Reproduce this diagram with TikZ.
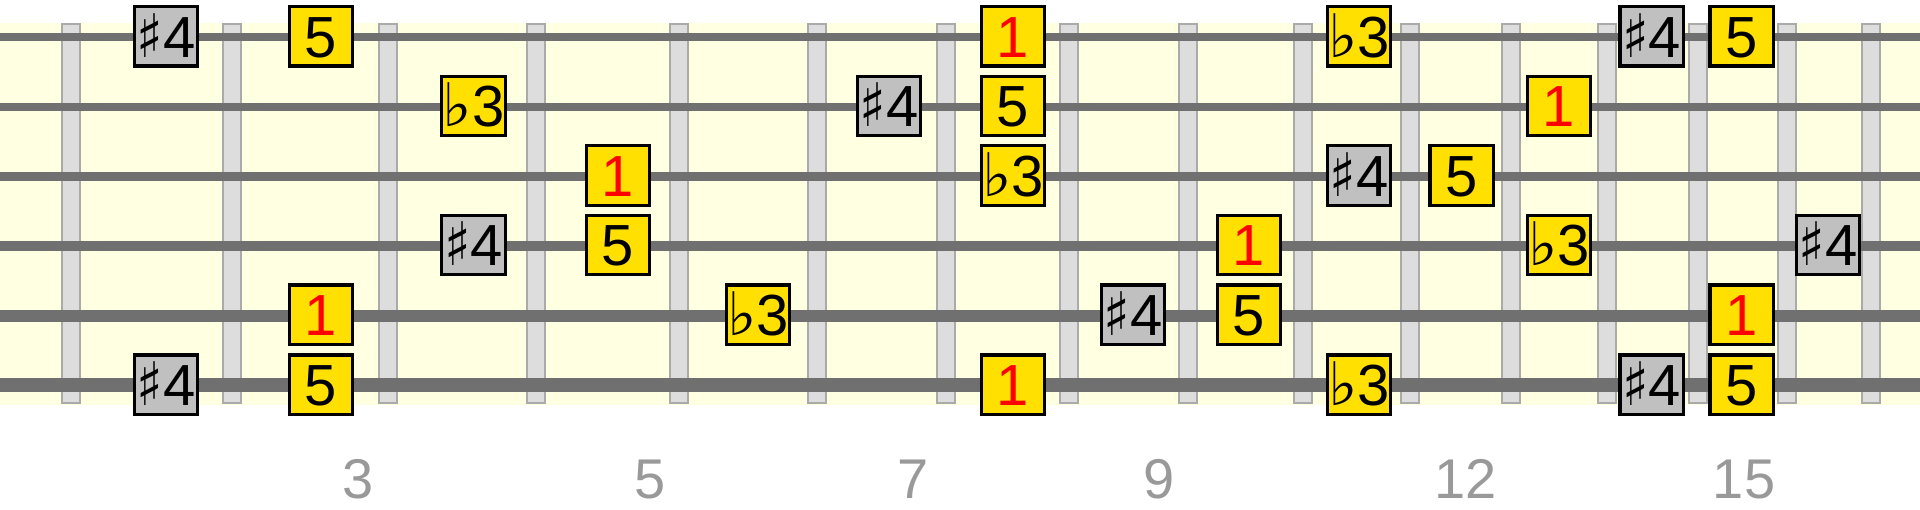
\documentclass[tikz,border=0pt]{standalone}
\usepackage{fontspec}
\usepackage{graphicx}
\setmainfont{Liberation Sans}
\newfontfamily\symfont{DejaVu Sans}
\definecolor{cream}{HTML}{FFFFE2}
\definecolor{strcol}{HTML}{707070}
\definecolor{fretfill}{HTML}{DDDDDD}
\definecolor{fretdraw}{HTML}{AAAAAA}
\definecolor{noteyellow}{HTML}{FFE000}
\definecolor{notegray}{HTML}{C0C0C0}
\definecolor{lblgray}{HTML}{999999}
\newcommand\shp{\scalebox{1.1}[1.2]{\symfont\fontsize{50}{50}\selectfont ♯}}
\newcommand\flt{\scalebox{1.25}[1.2]{\symfont\fontsize{50}{50}\selectfont ♭}}
\tikzset{
  fretbar/.style={fill=fretfill, draw=fretdraw, line width=2pt},
  gstring/.style={draw=strcol, line width=#1},
  notebox/.style={draw=black, line width=3.3pt, minimum width=63.4pt, minimum height=59.4pt,
    inner sep=0pt, text height=41.5pt, text depth=0pt, font=\fontsize{58}{58}\selectfont},
  yel/.style={notebox, fill=noteyellow},
  gry/.style={notebox, fill=notegray},
  root/.style={notebox, fill=noteyellow, text=red},
  fretlbl/.style={inner sep=0pt, text height=40pt, text depth=0pt, text=lblgray,
    font=\fontsize{56}{56}\selectfont},
}
\begin{document}
\begin{tikzpicture}[x=1pt,y=-1pt]
\useasboundingbox (0,0) rectangle (1920,510);
% fretboard
\fill[cream] (0,23.3) rectangle (1920,405);
% frets
\foreach \fx in {71.4,232,387.5,536.4,679.3,817,946,1068.5,1187.7,1302.7,1409.5,1510.5,1607,1697.5,1786.5,1871}
  \draw[fretbar] (\fx-9,24.3) rectangle (\fx+9,403.5);
% strings
\foreach \sy/\sw in {37.3/8,106.9/8,176.5/9,246.1/10.5,315.7/12,385.3/14}
  \draw[gstring=\sw pt] (0,\sy) -- (1920,\sy);
% string 1
\node[gry]  (s1f2)  at (166,36.3)    {\shp4};
\node[yel]  (s1f3)  at (321,36.3)    {5};
\node[root] (s1f8)  at (1013,36.3)   {1};
\node[yel]  (s1f11) at (1359,36.3)   {\flt3};
\node[gry]  (s1f14) at (1651.7,36.3) {\shp4};
\node[yel]  (s1f15) at (1741.7,36.3) {5};
% string 2
\node[yel]  (s2f4)  at (473.5,105.9) {\flt3};
\node[gry]  (s2f7)  at (889,105.9)   {\shp4};
\node[yel]  (s2f8)  at (1013,105.9)  {5};
\node[root] (s2f13) at (1559,105.9)  {1};
% string 3
\node[root] (s3f5)  at (618,175.5)    {1};
\node[yel]  (s3f8)  at (1013,175.5)   {\flt3};
\node[gry]  (s3f11) at (1359,175.5)   {\shp4};
\node[yel]  (s3f12) at (1461.6,175.5) {5};
% string 4
\node[gry]  (s4f4)  at (473.5,245.1) {\shp4};
\node[yel]  (s4f5)  at (618,245.1)   {5};
\node[root] (s4f10) at (1249,245.1)  {1};
\node[yel]  (s4f13) at (1559,245.1)  {\flt3};
\node[gry]  (s4f16) at (1828,245.1)  {\shp4};
% string 5
\node[root] (s5f3)  at (321,314.7)    {1};
\node[yel]  (s5f6)  at (758,314.7)    {\flt3};
\node[gry]  (s5f9)  at (1133,314.7)   {\shp4};
\node[yel]  (s5f10) at (1249,314.7)   {5};
\node[root] (s5f15) at (1741.7,314.7) {1};
% string 6
\node[gry]  (s6f2)  at (166,384.8)    {\shp4};
\node[yel]  (s6f3)  at (321,384.8)    {5};
\node[root] (s6f8)  at (1013,384.8)   {1};
\node[yel]  (s6f11) at (1359,384.8)   {\flt3};
\node[gry]  (s6f14) at (1651.7,384.8) {\shp4};
\node[yel]  (s6f15) at (1741.7,384.8) {5};
% fret numbers
\node[fretlbl] (l3)  at (357.8,478) {3};
\node[fretlbl] (l5)  at (650,478)   {5};
\node[fretlbl] (l7)  at (913,478)   {7};
\node[fretlbl] (l9)  at (1159,478)  {9};
\node[fretlbl] (l12) at (1465.8,478) {12};
\node[fretlbl] (l15) at (1744,478)  {15};
\end{tikzpicture}
\end{document}
